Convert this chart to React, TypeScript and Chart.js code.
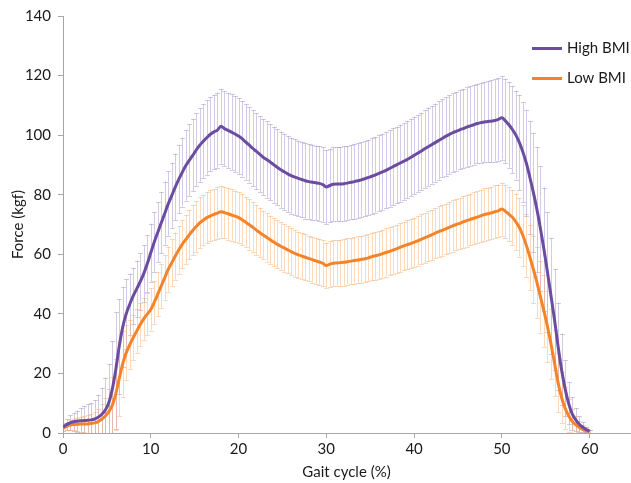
import React, { useEffect, useRef } from "react";
import { Chart, registerables } from "chart.js";

Chart.register(...registerables);

// Gait cycle (%) sample positions
const gaitCycle = [
  0, 0.4, 0.8, 1.2, 1.6, 2, 2.4, 2.8, 3.2, 3.6,
  4, 4.4, 4.8, 5.2, 5.6, 6, 6.4, 6.8, 7.2, 7.6,
  8, 8.4, 8.8, 9.2, 9.6, 10, 10.4, 10.8, 11.2, 11.6,
  12, 12.4, 12.8, 13.2, 13.6, 14, 14.4, 14.8, 15.2, 15.6,
  16, 16.4, 16.8, 17.2, 17.6, 18, 18.4, 18.8, 19.2, 19.6,
  20, 20.4, 20.8, 21.2, 21.6, 22, 22.4, 22.8, 23.2, 23.6,
  24, 24.4, 24.8, 25.2, 25.6, 26, 26.4, 26.8, 27.2, 27.6,
  28, 28.4, 28.8, 29.2, 29.6, 30, 30.4, 30.8, 31.2, 31.6,
  32, 32.4, 32.8, 33.2, 33.6, 34, 34.4, 34.8, 35.2, 35.6,
  36, 36.4, 36.8, 37.2, 37.6, 38, 38.4, 38.8, 39.2, 39.6,
  40, 40.4, 40.8, 41.2, 41.6, 42, 42.4, 42.8, 43.2, 43.6,
  44, 44.4, 44.8, 45.2, 45.6, 46, 46.4, 46.8, 47.2, 47.6,
  48, 48.4, 48.8, 49.2, 49.6, 50, 50.4, 50.8, 51.2, 51.6,
  52, 52.4, 52.8, 53.2, 53.6, 54, 54.4, 54.8, 55.2, 55.6,
  56, 56.4, 56.8, 57.2, 57.6, 58, 58.4, 58.8, 59.2, 59.6,
  60,
];

const highBmiMean = [
  2.0, 2.8, 3.4, 3.75, 3.95, 4.1, 4.2, 4.25, 4.4, 4.7,
  5.3, 6.2, 7.6, 10, 14.5, 21, 29, 35.5, 40, 43.2,
  46, 48.4, 50.8, 53.5, 56.8, 60.5, 64.1, 67.4, 70.6, 73.8,
  77, 79.8, 82.6, 85.2, 87.6, 89.8, 91.6, 93.3, 95.1, 96.7,
  98, 99.2, 100.3, 101.1, 101.7, 103, 102.2, 101.6, 101, 100.4,
  99.7, 98.8, 97.7, 96.7, 95.6, 94.6, 93.6, 92.6, 91.8, 91,
  90.1, 89.2, 88.4, 87.7, 87, 86.4, 85.9, 85.5, 85.1, 84.7,
  84.4, 84.2, 84, 83.8, 83.4, 82.6, 83.1, 83.5, 83.6, 83.6,
  83.7, 83.9, 84.2, 84.4, 84.7, 85, 85.4, 85.8, 86.2, 86.7,
  87.2, 87.7, 88.2, 88.8, 89.4, 90, 90.6, 91.2, 91.8, 92.5,
  93.2, 93.9, 94.6, 95.4, 96.1, 96.8, 97.5, 98.2, 98.9, 99.6,
  100.2, 100.8, 101.3, 101.8, 102.2, 102.7, 103.1, 103.5, 103.9, 104.2,
  104.4, 104.6, 104.7, 104.9, 105.3, 105.8, 104.8, 103.5, 101.9, 100,
  97.5, 94.3, 90.5, 85.7, 80.6, 75, 68.6, 61.6, 54, 46,
  38, 29.2, 21.3, 15, 10, 6.5, 4.5, 3, 2, 1.2,
  0.6,
];

const highBmiSd = [
  1.2, 1.8, 2.5, 3.1, 3.6, 4.2, 4.8, 5.4, 5.8, 6.4,
  7.5, 9, 11, 13.3, 16.3, 19.5, 16, 13.5, 11.7, 10.3,
  9.5, 9.5, 9.5, 9.5, 9.6, 9.8, 10, 10.1, 10.3, 10.6,
  10.8, 11, 11.2, 11.4, 11.6, 11.8, 12, 12.1, 12.2, 12.3,
  12.4, 12.5, 12.5, 12.5, 12.6, 12.6, 12.6, 12.6, 12.7, 12.7,
  12.7, 12.7, 12.7, 12.7, 12.8, 12.8, 12.8, 12.8, 12.8, 12.8,
  12.8, 12.8, 12.8, 12.8, 12.8, 12.8, 12.8, 12.7, 12.7, 12.7,
  12.6, 12.6, 12.5, 12.5, 12.5, 12.4, 12.4, 12.4, 12.4, 12.5,
  12.5, 12.5, 12.5, 12.6, 12.6, 12.6, 12.6, 12.7, 12.7, 12.7,
  12.8, 12.8, 12.8, 12.8, 12.9, 12.9, 12.9, 12.9, 13, 13,
  13, 13, 13, 13, 13.1, 13.1, 13.1, 13.1, 13.1, 13.2,
  13.2, 13.2, 13.2, 13.3, 13.3, 13.3, 13.3, 13.4, 13.4, 13.4,
  13.5, 13.6, 13.7, 13.8, 13.9, 14, 14.2, 14.4, 14.6, 14.9,
  16, 16.8, 17.8, 19, 20, 21, 21, 20.8, 20.2, 19.4,
  17, 14.6, 12, 9.4, 7, 5.5, 3.9, 2.6, 1.6, 0.9,
  0.5,
];

const lowBmiMean = [
  1.5, 2.2, 2.65, 2.85, 2.9, 3.0, 3.0, 3.05, 3.2, 3.4,
  3.8, 4.6, 5.6, 7.1, 9.2, 13, 18.2, 23.2, 26.9, 29.6,
  32, 34.2, 36.4, 38.3, 39.9, 41.5, 43.9, 46.6, 49.4, 52.2,
  55, 57.2, 59.4, 61.5, 63.4, 65, 66.6, 68.1, 69.4, 70.6,
  71.5, 72.3, 72.9, 73.4, 73.8, 74.3, 74, 73.6, 73.2, 72.8,
  72.3, 71.6, 70.8, 70, 69.1, 68.2, 67.3, 66.5, 65.7, 64.9,
  64.1, 63.4, 62.7, 62.1, 61.5, 60.9, 60.3, 59.8, 59.4, 59,
  58.6, 58.2, 57.8, 57.4, 57, 56.2, 56.7, 57, 57.1, 57.2,
  57.3, 57.5, 57.7, 57.9, 58.1, 58.3, 58.5, 58.8, 59.2, 59.5,
  59.8, 60.2, 60.6, 61, 61.4, 61.8, 62.3, 62.8, 63.2, 63.6,
  64, 64.5, 65, 65.5, 66, 66.5, 67.1, 67.6, 68, 68.5,
  69, 69.5, 70, 70.4, 70.9, 71.3, 71.7, 72.1, 72.5, 72.9,
  73.3, 73.6, 73.9, 74.3, 74.6, 75.2, 74.4, 73.5, 72.4, 70.9,
  69, 66.3, 62.9, 59, 54.9, 50.5, 45.7, 40.9, 35.7, 29.9,
  23.5, 17, 12, 8.4, 5.9, 4, 2.8, 1.9, 1.2, 0.7,
  0.4,
];

const lowBmiSd = [
  0.8, 1.2, 1.6, 2.0, 2.3, 2.5, 2.7, 3.0, 3.3, 3.6,
  4.2, 5, 6.2, 7.6, 9.6, 12, 12.5, 11, 9.2, 8.2,
  7.5, 7.3, 7.1, 7, 7, 7.1, 7.2, 7.3, 7.4, 7.5,
  7.6, 7.8, 7.9, 8.0, 8.1, 8.2, 8.3, 8.4, 8.5, 8.5,
  8.5, 8.6, 8.6, 8.6, 8.7, 8.7, 8.7, 8.7, 8.6, 8.6,
  8.5, 8.5, 8.4, 8.4, 8.3, 8.3, 8.3, 8.2, 8.2, 8.1,
  8.1, 8.1, 8.0, 8.0, 7.9, 7.9, 7.9, 7.8, 7.8, 7.8,
  7.7, 7.7, 7.7, 7.7, 7.7, 7.6, 7.6, 7.7, 7.7, 7.7,
  7.8, 7.8, 7.8, 7.8, 7.9, 7.9, 7.9, 7.9, 8, 8,
  8, 8, 8.1, 8.1, 8.1, 8.2, 8.2, 8.2, 8.3, 8.3,
  8.3, 8.3, 8.4, 8.4, 8.4, 8.4, 8.5, 8.5, 8.5, 8.5,
  8.6, 8.6, 8.6, 8.6, 8.7, 8.7, 8.7, 8.7, 8.7, 8.8,
  8.8, 8.8, 8.8, 8.8, 8.8, 8.9, 9.0, 9.2, 9.3, 9.5,
  9.8, 10.2, 10.6, 11, 11.4, 11.8, 12, 12, 12, 11.8,
  11.1, 10, 8.6, 7, 5.5, 4, 3, 2.2, 1.5, 1,
  0.5,
];

const xTickValues = [0, 10, 20, 30, 40, 50, 60];
const yTickValues = [0, 20, 40, 60, 80, 100, 120, 140];

const seriesNames = ["High BMI", "Low BMI"];

const FONT_FAMILY = "Lato, 'Open Sans', 'Liberation Sans', sans-serif";
const TEXT_COLOR = "#1a1a1a";
const AXIS_COLOR = "#a6a6a6";
const HIGH_COLOR = "#6b4c9e";
const LOW_COLOR = "#f5832a";
const HIGH_ERR = "rgba(150, 128, 196, 0.42)";
const LOW_ERR = "rgba(250, 165, 95, 0.42)";

const errorBarPlugin = {
  id: "errorBars",
  beforeDatasetsDraw(chart: any) {
    const { ctx, chartArea } = chart;
    const xScale = chart.scales.x;
    const yScale = chart.scales.y;
    ctx.save();
    ctx.beginPath();
    ctx.rect(chartArea.left, chartArea.top, chartArea.right - chartArea.left, chartArea.bottom - chartArea.top);
    ctx.clip();
    chart.data.datasets.forEach((ds: any) => {
      const sd: number[] = ds.errors;
      ctx.strokeStyle = ds.errorColor;
      ctx.lineWidth = 1;
      ds.data.forEach((pt: any, i: number) => {
        const px = Math.round(xScale.getPixelForValue(pt.x)) + 0.5;
        const top = yScale.getPixelForValue(pt.y + sd[i]);
        const bot = yScale.getPixelForValue(pt.y - sd[i]);
        ctx.beginPath();
        ctx.moveTo(px, top);
        ctx.lineTo(px, bot);
        ctx.moveTo(px - 2.5, Math.round(top) + 0.5);
        ctx.lineTo(px + 2.5, Math.round(top) + 0.5);
        ctx.moveTo(px - 2.5, Math.round(bot) + 0.5);
        ctx.lineTo(px + 2.5, Math.round(bot) + 0.5);
        ctx.stroke();
      });
    });
    ctx.restore();
  },
};

const legendPlugin = {
  id: "sideLegend",
  afterDraw(chart: any) {
    const { ctx, chartArea } = chart;
    ctx.save();
    chart.data.datasets.forEach((ds: any, i: number) => {
      const y = chartArea.top + 32.5 + i * 30;
      const x0 = chartArea.right - 98;
      ctx.strokeStyle = ds.borderColor;
      ctx.lineWidth = 3;
      ctx.beginPath();
      ctx.moveTo(x0, y);
      ctx.lineTo(x0 + 30, y);
      ctx.stroke();
      ctx.fillStyle = TEXT_COLOR;
      ctx.font = `15px ${FONT_FAMILY}`;
      ctx.textBaseline = "middle";
      ctx.textAlign = "left";
      ctx.fillText(ds.label, x0 + 35, y);
    });
    ctx.restore();
  },
};

export default function App() {
  const canvasRef = useRef<HTMLCanvasElement | null>(null);

  useEffect(() => {
    document.body.style.margin = "0";
    const canvas = canvasRef.current;
    if (!canvas) return;
    const tickFont = { family: FONT_FAMILY, size: 15 };
    const chart = new Chart(canvas, {
      type: "line",
      data: {
        datasets: [
          {
            label: seriesNames[0],
            data: gaitCycle.map((x, i) => ({ x, y: highBmiMean[i] })),
            borderColor: HIGH_COLOR,
            borderWidth: 3,
            pointRadius: 0,
            fill: false,
            cubicInterpolationMode: "monotone",
            errors: highBmiSd,
            errorColor: HIGH_ERR,
          } as any,
          {
            label: seriesNames[1],
            data: gaitCycle.map((x, i) => ({ x, y: lowBmiMean[i] })),
            borderColor: LOW_COLOR,
            borderWidth: 3,
            pointRadius: 0,
            fill: false,
            cubicInterpolationMode: "monotone",
            errors: lowBmiSd,
            errorColor: LOW_ERR,
          } as any,
        ],
      },
      options: {
        responsive: false,
        animation: false,
        events: [],
        layout: { padding: { top: 16, right: 1, left: 0, bottom: 0 } },
        plugins: {
          legend: { display: false },
          tooltip: { enabled: false },
        },
        scales: {
          x: {
            type: "linear",
            min: 0,
            max: 64.6,
            afterBuildTicks: (s: any) => {
              s.ticks = xTickValues.map((v) => ({ value: v }));
            },
            afterFit: (s: any) => {
              s.height = 50;
            },
            grid: { display: true, drawOnChartArea: false, drawTicks: true, tickLength: 5, color: AXIS_COLOR },
            border: { display: true, color: AXIS_COLOR, width: 1 },
            ticks: { color: TEXT_COLOR, font: tickFont, padding: 2, maxRotation: 0, autoSkip: false },
            title: {
              display: true,
              text: "Gait cycle (%)",
              color: TEXT_COLOR,
              font: tickFont,
              padding: { top: 0, bottom: 2 },
            },
          },
          y: {
            type: "linear",
            min: 0,
            max: 140,
            afterBuildTicks: (s: any) => {
              s.ticks = yTickValues.map((v) => ({ value: v }));
            },
            afterFit: (s: any) => {
              s.width = 63;
            },
            grid: { display: true, drawOnChartArea: false, drawTicks: true, tickLength: 5, color: AXIS_COLOR },
            border: { display: true, color: AXIS_COLOR, width: 1 },
            ticks: { color: TEXT_COLOR, font: tickFont, padding: 7 },
            title: {
              display: true,
              text: "Force (kgf)",
              color: TEXT_COLOR,
              font: tickFont,
              padding: { top: 9, bottom: 0 },
            },
          },
        },
      },
      plugins: [errorBarPlugin, legendPlugin],
    });
    return () => chart.destroy();
  }, []);

  return (
    <div style={{ position: "absolute", left: 0, top: 0, width: 631, height: 483 }}>
      <canvas ref={canvasRef} width={631} height={483} style={{ display: "block", width: 631, height: 483 }} />
    </div>
  );
}
